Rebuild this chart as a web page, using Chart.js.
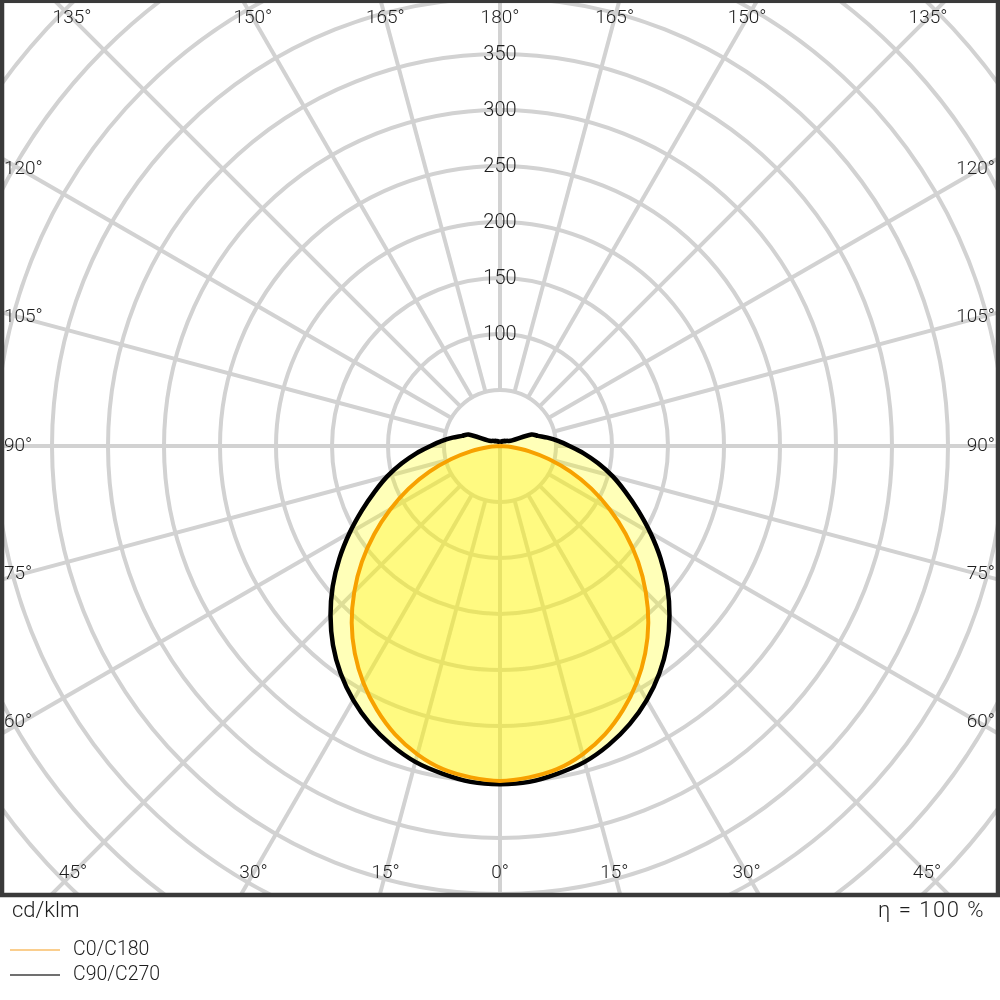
<!DOCTYPE html>
<html><head><meta charset="utf-8">
<script src="https://cdn.jsdelivr.net/npm/chart.js@4.4.1/dist/chart.umd.min.js"></script>
<style>html,body{margin:0;padding:0;background:#fff;overflow:hidden}#wrap{width:1000px;height:1000px;position:relative}</style>
</head><body><div id="wrap"><canvas id="c" width="1000" height="1000"></canvas></div>
<script>
// ---- data (cd/klm) ----
const gammaAngles = [0,5,10,15,20,25,30,35,40,45,50,55,60,65,70,75,80,85,90,95,100,105,110,115,120,125,130,135,140,145,150,155,160,165,170,175,180];
const c0c180 = [299,297,293,285,274,260,244,226,206,184,161,137,113,90,67,45,26,10,0,0,0,0,0,0,0,0,0,0,0,0,0,0,0,0,0,0,0];
const c90c270 = [302,301,297,292,284,274,262,248,232,214,195,175,155,136,119,104,89,75,62,52,43,35,30,12,9,8,7,6,6,5,5,5,4,4,4,4,4];
const ringValues = [50,100,150,200,250,300,350,400,450,500,550,600];
const ringLabels = [100,150,200,250,300,350];
const angleTicks = [0,15,30,45,60,75,90,105,120,135,150,165,180];
const seriesNames = ['C0/C180','C90/C270'];
const unitLabel = 'cd/klm';
const efficiencyLabel = 'η = 100 %';

function polarPoints(leftVals, rightVals){
  const pts = [];
  for (let i = gammaAngles.length-1; i >= 0; i--) {
    const g = gammaAngles[i]*Math.PI/180;
    pts.push({x: -leftVals[i]*Math.sin(g), y: -leftVals[i]*Math.cos(g)});
  }
  for (let i = 1; i < gammaAngles.length; i++) {
    const g = gammaAngles[i]*Math.PI/180;
    pts.push({x: rightVals[i]*Math.sin(g), y: -rightVals[i]*Math.cos(g)});
  }
  return pts;
}

const FONT = '"Roboto", "Liberation Sans", sans-serif';
const TXT = '#1e1e1e';
const FRAME_B = 895;

const polarDecor = {
  id: 'polarDecor',
  beforeDatasetsDraw(chart){
    const {ctx, scales:{x, y}} = chart;
    const cx = x.getPixelForValue(0), cy = y.getPixelForValue(0);
    const k = x.getPixelForValue(1) - cx;
    ctx.save();
    ctx.beginPath(); ctx.rect(0, 0, 1000, FRAME_B); ctx.clip();
    ctx.strokeStyle = '#d2d2d2'; ctx.lineWidth = 4;
    ringValues.forEach(v => { ctx.beginPath(); ctx.arc(cx, cy, v*k, 0, Math.PI*2); ctx.stroke(); });
    const rIn = ringValues[0]*k, rOut = 800*k;
    angleTicks.forEach(a => {
      const sides = (a === 0 || a === 180) ? [1] : [-1, 1];
      sides.forEach(sd => {
        const s = Math.sin(a*Math.PI/180)*sd, c = Math.cos(a*Math.PI/180);
        const r0 = a === 0 ? 0 : rIn;
        ctx.beginPath(); ctx.moveTo(cx + s*r0, cy + c*r0); ctx.lineTo(cx + s*rOut, cy + c*rOut); ctx.stroke();
      });
    });
    // translucent fills of the curves (from the dataset points placed by the scales)
    const fills = [[1, 'rgba(255,255,0,0.28)'], [0, 'rgba(255,240,0,0.30)']];
    fills.forEach(([idx, col]) => {
      const pts = chart.getDatasetMeta(idx).data;
      ctx.beginPath();
      pts.forEach((p, i) => {
        if (!i) { ctx.moveTo(p.x, p.y); return; }
        const q = pts[i-1];
        if (q.cp2x !== undefined && p.cp1x !== undefined) ctx.bezierCurveTo(q.cp2x, q.cp2y, p.cp1x, p.cp1y, p.x, p.y);
        else ctx.lineTo(p.x, p.y);
      });
      ctx.closePath(); ctx.fillStyle = col; ctx.fill();
    });
    ctx.restore();
  },
  afterDatasetsDraw(chart){
    const {ctx, scales:{x, y}} = chart;
    const cx = x.getPixelForValue(0), cy = y.getPixelForValue(0);
    const k = x.getPixelForValue(1) - cx;
    ctx.save();
    ctx.fillStyle = TXT;
    ctx.font = '300 20px ' + FONT;
    ctx.textAlign = 'center'; ctx.textBaseline = 'middle';
    ringLabels.forEach(v => ctx.fillText(String(v), cx, cy - v*k + 1));
    ctx.font = '300 19px ' + FONT;
    const L = 21, R = 979, T = 18, B = 873;
    angleTicks.forEach(a => {
      const sides = (a === 0 || a === 180) ? [1] : [-1, 1];
      sides.forEach(sd => {
        const s = Math.sin(a*Math.PI/180)*sd, c = Math.cos(a*Math.PI/180);
        let t = Infinity, where = '';
        if (c > 1e-6) { const tt = (B - cy)/c; if (tt < t) { t = tt; where = 'b'; } }
        if (c < -1e-6) { const tt = (T - cy)/c; if (tt < t) { t = tt; where = 't'; } }
        if (s > 1e-6) { const tt = (R - cx)/s; if (tt < t) { t = tt; where = 'r'; } }
        if (s < -1e-6) { const tt = (L - cx)/s; if (tt < t) { t = tt; where = 'l'; } }
        const px = cx + s*t, py = cy + c*t;
        const txt = a + '°';
        if (where === 'r') { ctx.textAlign = 'right'; ctx.fillText(txt, 995, py); }
        else if (where === 'l') { ctx.textAlign = 'left'; ctx.fillText(txt, 4, py); }
        else { ctx.textAlign = 'center'; ctx.fillText(txt, px, py); }
      });
    });
    // frame
    ctx.strokeStyle = '#3a3a3a'; ctx.lineWidth = 4.5;
    ctx.strokeRect(2, 0.8, 996, FRAME_B - 0.8);
    // bottom texts
    ctx.fillStyle = TXT;
    ctx.font = '300 22px ' + FONT;
    ctx.textAlign = 'left'; ctx.fillText(unitLabel, 12, 911);
    ctx.textAlign = 'right';
    ctx.letterSpacing = '1.5px';
    ctx.fillText(efficiencyLabel, 985, 911);
    ctx.letterSpacing = '0px';
    // legend
    const legCols = ['rgba(245,165,50,0.55)', '#707070'];
    const legY = [950, 975];
    ctx.font = '300 19.5px ' + FONT; ctx.textAlign = 'left';
    seriesNames.forEach((n, i) => {
      ctx.strokeStyle = legCols[i]; ctx.lineWidth = 2;
      ctx.beginPath(); ctx.moveTo(10, legY[i]); ctx.lineTo(60, legY[i]); ctx.stroke();
      ctx.fillStyle = TXT; ctx.fillText(n, 73, legY[i]);
    });
    ctx.restore();
  }
};

new Chart(document.getElementById('c'), {
  type: 'scatter',
  data: {
    datasets: [
      { label: seriesNames[0], data: polarPoints(c0c180, c0c180), showLine: true, borderColor: '#f7a100', borderWidth: 4, pointRadius: 0, fill: false, tension: 0.3 },
      { label: seriesNames[1], data: polarPoints(c90c270, c90c270), showLine: true, borderColor: '#000000', borderWidth: 4.5, pointRadius: 0, fill: false, tension: 0.3 }
    ]
  },
  options: {
    responsive: false, animation: false, devicePixelRatio: 1,
    layout: { padding: 0 },
    plugins: { legend: { display: false }, tooltip: { enabled: false } },
    scales: {
      x: { type: 'linear', min: -446.43, max: 446.43, display: false },
      y: { type: 'linear', min: -494.64, max: 398.21, display: false }
    }
  },
  plugins: [polarDecor]
});
</script>
</body></html>
